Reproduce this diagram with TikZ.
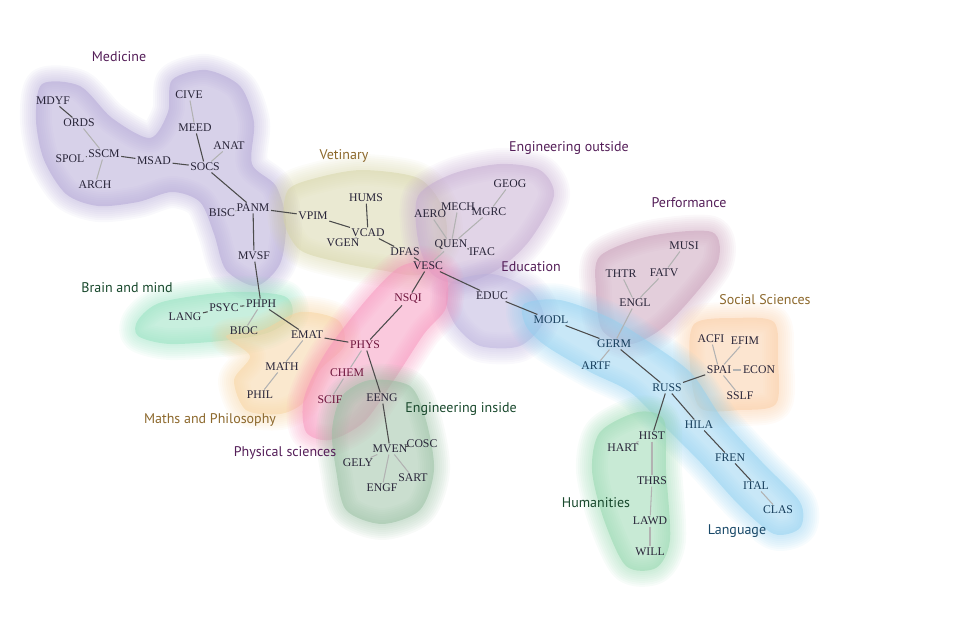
\documentclass[tikz,border=0pt]{standalone}
\usepackage{fontspec}
\setmainfont{Liberation Serif}
\newfontfamily\grpfont{PT Sans}
\definecolor{medc}{RGB}{176,164,212}
\definecolor{vetc}{RGB}{214,212,166}
\definecolor{engoc}{RGB}{196,170,208}
\definecolor{educc}{RGB}{186,176,220}
\definecolor{perfc}{RGB}{200,158,184}
\definecolor{socc}{RGB}{250,204,162}
\definecolor{langc}{RGB}{146,208,240}
\definecolor{humc}{RGB}{146,214,172}
\definecolor{brainc}{RGB}{146,224,190}
\definecolor{mathc}{RGB}{246,210,158}
\definecolor{physc}{RGB}{246,148,188}
\definecolor{engic}{RGB}{150,190,160}
\definecolor{purptxt}{RGB}{84,30,88}
\definecolor{browntxt}{RGB}{140,104,44}
\definecolor{greentxt}{RGB}{24,72,44}
\definecolor{bluetxt}{RGB}{24,72,104}
\definecolor{nodetxt}{RGB}{40,36,56}
\definecolor{physnode}{RGB}{110,20,60}
\definecolor{langnode}{RGB}{20,60,90}
\newcommand{\blob}[2]{%
  \foreach \w in {32,28,...,4}{%
    \draw[#1, line width=\w*0.75pt, opacity=0.07, line join=round] plot[smooth cycle] coordinates {#2};}
  \fill[#1, opacity=0.5] plot[smooth cycle] coordinates {#2};}
\begin{document}
\begin{tikzpicture}[
        x=0.75pt, y=-0.75pt,
        lbl/.style={inner sep=1pt, font=\fontsize{8.8}{10}\selectfont, text=nodetxt},
        grp/.style={font=\grpfont\fontsize{10.5}{12}\selectfont},
        link/.style={draw=black!70, line width=0.8pt},
        faint/.style={draw=black!30, line width=0.8pt},
    ]
    \useasboundingbox (0,0) rectangle (963,631);

    \blob{medc}{(42,84) (80,86) (112,118) (150,138) (168,112) (172,80) (206,70) (240,86) (254,122) (252,164) (276,186) (286,222) (280,264) (256,286) (226,270) (214,234) (200,202) (172,192) (138,202) (98,206) (66,194) (44,160) (36,120)}
    \blob{vetc}{(288,190) (316,178) (362,170) (418,178) (442,206) (446,240) (422,274) (380,270) (338,262) (300,250) (284,222)}
    \blob{engoc}{(418,196) (452,174) (500,164) (540,170) (554,196) (530,240) (500,268) (462,284) (432,274) (418,240)}
    \blob{educc}{(452,282) (492,274) (530,290) (544,320) (520,346) (480,346) (456,326) (446,302)}
    \blob{perfc}{(600,256) (650,236) (712,232) (718,262) (690,300) (660,330) (630,344) (602,330) (596,290)}
    \blob{socc}{(694,324) (735,318) (774,322) (778,360) (776,404) (740,410) (700,408) (690,366)}
    \blob{langc}{(524,304) (560,300) (610,318) (652,344) (692,374) (722,418) (762,462) (800,502) (800,528) (774,534) (740,506) (700,462) (664,426) (630,392) (590,372) (546,346) (526,326)}
    \blob{humc}{(600,432) (638,412) (664,420) (666,470) (670,540) (656,568) (626,566) (604,520) (592,470)}
    \blob{brainc}{(138,320) (162,302) (230,292) (284,296) (292,316) (270,332) (230,340) (170,344) (138,336)}
    \blob{mathc}{(226,336) (262,330) (300,312) (338,320) (344,346) (320,370) (304,402) (280,414) (246,410) (234,380) (250,356)}
    \blob{physc}{(424,262) (446,274) (446,308) (424,334) (394,380) (364,422) (330,440) (306,432) (304,398) (326,352) (366,300) (398,268)}
    \blob{engic}{(342,396) (370,380) (410,386) (426,420) (434,470) (420,510) (382,524) (346,510) (336,470) (332,430)}

    \node[grp, text=purptxt] (medicine) at (119,57) {Medicine};
    \node[grp, text=browntxt] (vetinary) at (344,156) {Vetinary};
    \node[grp, text=purptxt] (engout) at (569,148) {Engineering outside};
    \node[grp, text=purptxt] (performance) at (689,203) {Performance};
    \node[grp, text=purptxt] (education) at (531,267) {Education};
    \node[grp, text=browntxt] (social) at (765,300) {Social Sciences};
    \node[grp, text=greentxt] (brain) at (127,288) {Brain and mind};
    \node[grp, text=browntxt] (maths) at (210,420) {Maths and Philosophy};
    \node[grp, text=purptxt] (physical) at (285,453) {Physical sciences};
    \node[grp, text=greentxt] (engin) at (461,409) {Engineering inside};
    \node[grp, text=greentxt] (humanities) at (596,503) {Humanities};
    \node[grp, text=bluetxt] (language) at (737,531) {Language};

    \foreach \n/\x/\y in {MDYF/53/101, ORDS/79/123, SSCM/104/154, SPOL/70/159, ARCH/95/185,
        MSAD/154/161, SOCS/205/167, CIVE/189/95, MEED/195/128, ANAT/229/146, PANM/253/208,
        BISC/222/213, MVSF/254/256, VPIM/313/216, HUMS/366/198, VCAD/368/233, VGEN/343/243,
        DFAS/405/252, VESC/428/266, QUEN/451/245, AERO/430/214, MECH/458/207, MGRC/489/212,
        GEOG/510/184, IFAC/482/252, EDUC/492/296, PHPH/261/304, PSYC/224/308, LANG/185/317,
        BIOC/244/331, EMAT/307/335, MATH/282/367, PHIL/260/395, EENG/382/398, MVEN/390/449,
        COSC/422/444, GELY/358/463, SART/413/478, ENGF/382/488, ENGL/635/303, THTR/621/274,
        FATV/664/273, MUSI/684/246, SPAI/719/370, ACFI/711/339, EFIM/745/341, ECON/759/370,
        SSLF/740/396, HIST/652/436, HART/623/448, THRS/652/481, LAWD/650/521, WILL/650/552}
        \node[lbl] (\n) at (\x,\y) {\n};
    \foreach \n/\x/\y in {NSQI/408/299, PHYS/365/345, CHEM/347/373, SCIF/330/400}
        \node[lbl, text=physnode] (\n) at (\x,\y) {\n};
    \foreach \n/\x/\y in {MODL/551/320, GERM/614/344, ARTF/596/366, RUSS/667/388,
        HILA/699/425, FREN/730/458, ITAL/756/486, CLAS/778/510}
        \node[lbl, text=langnode] (\n) at (\x,\y) {\n};

    \foreach \a/\b in {MDYF/ORDS, SPOL/SSCM, SSCM/MSAD, MSAD/SOCS, MEED/SOCS, SOCS/PANM,
        PANM/MVSF, PANM/VPIM, VPIM/VCAD, HUMS/VCAD, VCAD/DFAS, DFAS/VESC, VESC/NSQI,
        VESC/EDUC, QUEN/IFAC, MVSF/PHPH, PHPH/PSYC, PSYC/LANG, PHPH/EMAT, EMAT/PHYS,
        NSQI/PHYS, PHYS/EENG, EENG/MVEN, MVEN/COSC, EDUC/MODL, MODL/GERM, GERM/RUSS,
        RUSS/SPAI, RUSS/HIST, RUSS/HILA, HILA/FREN, FREN/ITAL}
        \draw[link] (\a) -- (\b);
    \foreach \a/\b in {ORDS/SSCM, SSCM/ARCH, CIVE/MEED, ANAT/SOCS, BISC/PANM, VGEN/VCAD,
        VESC/QUEN, QUEN/AERO, QUEN/MECH, QUEN/MGRC, MGRC/GEOG, PHPH/BIOC, EMAT/MATH,
        MATH/PHIL, PHYS/CHEM, CHEM/SCIF, MVEN/GELY, MVEN/ENGF, MVEN/SART, GERM/ENGL,
        ENGL/THTR, ENGL/FATV, FATV/MUSI, GERM/ARTF, SPAI/ACFI, SPAI/EFIM, SPAI/ECON,
        SPAI/SSLF, HIST/HART, HIST/THRS, THRS/LAWD, LAWD/WILL, ITAL/CLAS}
        \draw[faint] (\a) -- (\b);
\end{tikzpicture}
\end{document}
